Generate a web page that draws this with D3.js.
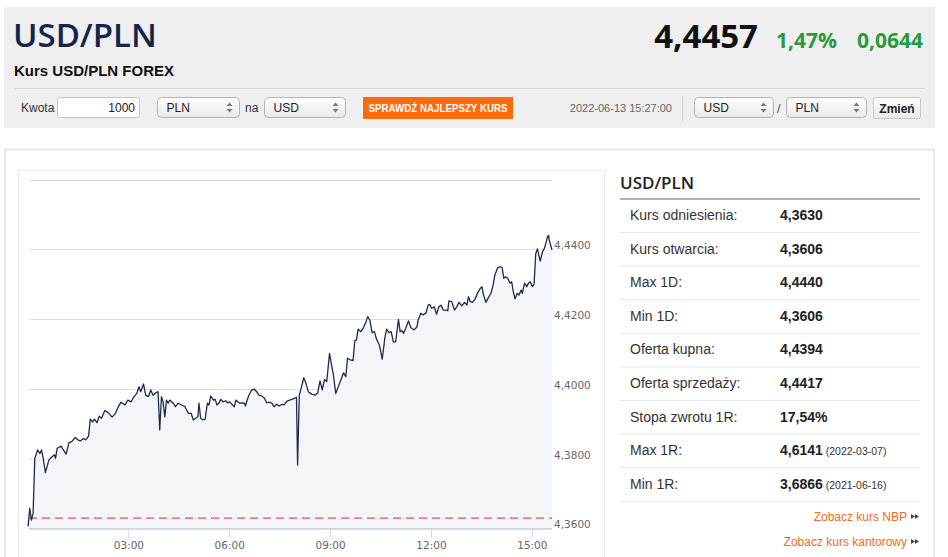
<!DOCTYPE html>
<html>
<head>
<meta charset="utf-8">
<script src="https://cdn.jsdelivr.net/npm/d3@7"></script>
<style>
  body { margin: 0; background: #fff; }
  svg { display: block; }
</style>
</head>
<body>
<script>
// ---- data ----
const pairName = "USD/PLN"
const subTitle = "Kurs USD/PLN FOREX"
const lastRate = "4,4457"
const changePct = "1,47%"
const changeAbs = "0,0644"
const quoteTime = "2022-06-13 15:27:00"
const refRate = 4.3630

const times = ["00:01","00:04","00:07","00:10","00:13","00:18","00:22","00:25","00:28","00:32",
  "00:38","00:43","00:48","00:50","00:53","01:00","01:04","01:09","01:14","01:19",
  "01:25","01:30","01:34","01:40","01:44","01:49","01:52","01:56","02:00","02:04",
  "02:08","02:12","02:18","02:24","02:31","02:37","02:42","02:47","02:54","02:59",
  "03:05","03:09","03:15","03:19","03:22","03:27","03:31","03:36","03:40","03:44",
  "03:49","03:53","03:56","03:59","04:02","04:05","04:08","04:11","04:14","04:20",
  "04:24","04:29","04:35","04:41","04:47","04:52","04:56","05:00","05:04","05:06",
  "05:09","05:13","05:17","05:21","05:24","05:27","05:32","05:35","05:38","05:42",
  "05:45","05:49","05:54","05:57","06:01","06:06","06:09","06:12","06:15","06:19",
  "06:23","06:27","06:29","06:31","06:35","06:40","06:45","06:49","06:53","06:58",
  "07:03","07:07","07:11","07:16","07:20","07:25","07:29","07:34","07:38","07:43",
  "07:48","07:52","07:56","08:00","08:02","08:05","08:09","08:13","08:17","08:21",
  "08:27","08:33","08:38","08:42","08:46","08:50","08:54","08:59","09:02","09:06",
  "09:10","09:15","09:19","09:24","09:28","09:31","09:36","09:41","09:44","09:47",
  "09:50","09:55","09:59","10:04","10:07","10:11","10:15","10:19","10:23","10:28",
  "10:33","10:38","10:41","10:45","10:49","10:53","10:57","11:02","11:05","11:08",
  "11:11","11:15","11:20","11:24","11:30","11:35","11:37","11:42","11:46","11:51",
  "11:55","11:58","12:01","12:06","12:10","12:14","12:18","12:22","12:26","12:30",
  "12:32","12:37","12:42","12:46","12:50","12:55","13:00","13:04","13:07","13:10",
  "13:14","13:19","13:23","13:28","13:31","13:33","13:38","13:42","13:47","13:51",
  "13:54","13:59","14:03","14:07","14:10","14:13","14:17","14:21","14:24","14:27",
  "14:30","14:34","14:37","14:41","14:43","14:47","14:51","14:54","14:57","15:01",
  "15:04","15:07","15:10","15:15","15:19","15:22","15:25","15:28","15:30","15:31","15:36"]

const rates = [4.3606,4.3658,4.3624,4.3644,4.3801,4.3825,4.3815,4.3825,4.3801,4.3760,
  4.3796,4.3804,4.3811,4.3801,4.3830,4.3836,4.3825,4.3813,4.3846,4.3849,
  4.3861,4.3854,4.3851,4.3858,4.3854,4.3865,4.3913,4.3906,4.3913,4.3903,
  4.3922,4.3916,4.3938,4.3932,4.3919,4.3930,4.3949,4.3962,4.3954,4.3968,
  4.3963,4.3975,4.3987,4.4006,4.3992,4.4014,4.3982,4.3978,4.3997,4.3982,
  4.3989,4.3992,4.3882,4.3978,4.3963,4.3920,4.3968,4.3959,4.3968,4.3959,
  4.3949,4.3959,4.3954,4.3949,4.3930,4.3930,4.3911,4.3916,4.3920,4.3959,
  4.3916,4.3911,4.3913,4.3959,4.3954,4.3980,4.3968,4.3970,4.3954,4.3960,
  4.3970,4.3963,4.3966,4.3960,4.3963,4.3954,4.3949,4.3968,4.3963,4.3959,
  4.3960,4.3959,4.3951,4.3963,4.3982,4.3997,4.3999,4.3992,4.3982,4.3980,
  4.3973,4.3960,4.3962,4.3959,4.3949,4.3956,4.3951,4.3956,4.3954,4.3965,
  4.3968,4.3970,4.3973,4.3976,4.3782,4.3982,4.4006,4.4032,4.4016,4.3992,
  4.3985,4.3982,4.3989,4.4023,4.3997,4.4027,4.4021,4.4102,4.4073,4.4040,
  4.3987,4.4008,4.4025,4.4046,4.4035,4.4088,4.4083,4.4081,4.4138,4.4140,
  4.4171,4.4164,4.4174,4.4192,4.4207,4.4197,4.4161,4.4164,4.4142,4.4126,
  4.4085,4.4150,4.4171,4.4161,4.4164,4.4135,4.4135,4.4199,4.4164,4.4167,
  4.4159,4.4174,4.4195,4.4176,4.4169,4.4178,4.4197,4.4217,4.4212,4.4217,
  4.4240,4.4242,4.4231,4.4235,4.4214,4.4235,4.4240,4.4226,4.4226,4.4224,
  4.4252,4.4250,4.4226,4.4235,4.4248,4.4238,4.4248,4.4240,4.4264,4.4250,
  4.4248,4.4258,4.4274,4.4288,4.4293,4.4274,4.4248,4.4260,4.4274,4.4298,
  4.4326,4.4347,4.4350,4.4348,4.4317,4.4321,4.4317,4.4303,4.4307,4.4278,
  4.4258,4.4274,4.4269,4.4283,4.4274,4.4303,4.4293,4.4303,4.4307,4.4293,
  4.4300,4.4388,4.4401,4.4366,4.4393,4.4401,4.4417,4.4436,4.4440,4.4427,4.4398]

const xTicks = ["03:00","06:00","09:00","12:00","15:00"]
const yGrid = [4.36, 4.38, 4.40, 4.42, 4.44, 4.46]
const yLabels = [4.36, 4.38, 4.40, 4.42, 4.44]

const statLabels = ["Kurs odniesienia:","Kurs otwarcia:","Max 1D:","Min 1D:","Oferta kupna:",
  "Oferta sprzedaży:","Stopa zwrotu 1R:","Max 1R:","Min 1R:"]
const statValues = ["4,3630","4,3606","4,4440","4,3606","4,4394","4,4417","17,54%","4,6141","3,6866"]
const statDates = ["","","","","","","","(2022-03-07)","(2021-06-16)"]

const links = ["Zobacz kurs NBP","Zobacz kurs kantorowy"]

// ---- page ----
const svg = d3.select("body").append("svg")
  .attr("width", 948).attr("height", 557)
  .style("font-family", "'Liberation Sans', Arial, sans-serif")

const defs = svg.append("defs")
const grad = defs.append("linearGradient").attr("id", "selGrad")
  .attr("x1", 0).attr("y1", 0).attr("x2", 0).attr("y2", 1)
grad.append("stop").attr("offset", "0%").attr("stop-color", "#ffffff")
grad.append("stop").attr("offset", "100%").attr("stop-color", "#e9e9e9")

// header box
svg.append("rect").attr("x", 4).attr("y", 7).attr("width", 931).attr("height", 121).attr("fill", "#efefef")

svg.append("text").attr("x", 13).attr("y", 47)
  .style("font-family", "'Open Sans', sans-serif").attr("font-weight", 600)
  .attr("font-size", 33).attr("fill", "#14244a").text(pairName)

svg.append("text").attr("x", 14).attr("y", 76)
  .attr("font-weight", "bold").attr("font-size", 15).attr("fill", "#111").text(subTitle)

svg.append("text").attr("x", 758).attr("y", 48).attr("text-anchor", "end")
  .style("font-family", "'Open Sans', sans-serif").attr("font-weight", 700)
  .attr("font-size", 33).attr("fill", "#111").text(lastRate)
svg.append("text").attr("x", 837).attr("y", 48).attr("text-anchor", "end")
  .style("font-family", "'Open Sans', sans-serif").attr("font-weight", 700)
  .attr("font-size", 21).attr("fill", "#2a9a3c").text(changePct)
svg.append("text").attr("x", 923).attr("y", 48).attr("text-anchor", "end")
  .style("font-family", "'Open Sans', sans-serif").attr("font-weight", 700)
  .attr("font-size", 21).attr("fill", "#2a9a3c").text(changeAbs)

svg.append("line").attr("x1", 14).attr("x2", 925).attr("y1", 88.5).attr("y2", 88.5)
  .attr("stroke", "#dcdcdc")

// controls row
svg.append("text").attr("x", 21).attr("y", 112).attr("font-size", 12).attr("fill", "#333").text("Kwota")
svg.append("rect").attr("x", 57.5).attr("y", 97.5).attr("width", 82).attr("height", 20).attr("rx", 2)
  .attr("fill", "#fff").attr("stroke", "#c4c4c4")
svg.append("text").attr("x", 135).attr("y", 112).attr("text-anchor", "end")
  .attr("font-size", 12).attr("fill", "#222").text("1000")

function drawSelect(x, w, label) {
  const g = svg.append("g").attr("transform", `translate(${x},97.5)`)
  g.append("rect").attr("width", w).attr("height", 20).attr("rx", 4)
    .attr("fill", "url(#selGrad)").attr("stroke", "#b4b4b4")
  g.append("text").attr("x", 9).attr("y", 14.5).attr("font-size", 12).attr("fill", "#222").text(label)
  g.append("path").attr("transform", `translate(${w - 10},10)`)
    .attr("d", "M-3,-1.5L0,-5L3,-1.5Z M-3,1.5L0,5L3,1.5Z").attr("fill", "#777")
}
drawSelect(157.5, 82, "PLN")
svg.append("text").attr("x", 245).attr("y", 112).attr("font-size", 12).attr("fill", "#333").text("na")
drawSelect(264.5, 81, "USD")

svg.append("rect").attr("x", 363).attr("y", 97).attr("width", 150).attr("height", 22).attr("fill", "#fd6a0c")
svg.append("text").attr("x", 438).attr("y", 112).attr("text-anchor", "middle")
  .style("font-family", "'Liberation Sans Narrow', 'Arial Narrow', sans-serif")
  .attr("font-weight", "bold").attr("font-size", 11).attr("fill", "#fff")
  .attr("textLength", 139).attr("lengthAdjust", "spacingAndGlyphs")
  .text("SPRAWDŹ NAJLEPSZY KURS")

svg.append("text").attr("x", 672).attr("y", 112).attr("text-anchor", "end")
  .attr("font-size", 11).attr("fill", "#666").text(quoteTime)
svg.append("line").attr("x1", 682.5).attr("x2", 682.5).attr("y1", 96).attr("y2", 121).attr("stroke", "#d6d6d6")
drawSelect(694.5, 79, "USD")
svg.append("text").attr("x", 777).attr("y", 113).attr("font-size", 13).attr("fill", "#555").text("/")
drawSelect(786.5, 80, "PLN")
svg.append("rect").attr("x", 873.5).attr("y", 97.5).attr("width", 47).attr("height", 21).attr("rx", 2)
  .attr("fill", "url(#selGrad)").attr("stroke", "#c8c8c8")
svg.append("text").attr("x", 897).attr("y", 112.5).attr("text-anchor", "middle")
  .attr("font-weight", "bold").attr("font-size", 12).attr("fill", "#222").text("Zmień")

// content panels
svg.append("rect").attr("x", 5).attr("y", 149.5).attr("width", 929).attr("height", 420)
  .attr("fill", "#fff").attr("stroke", "#e8e8e8").attr("stroke-width", 2)
svg.append("rect").attr("x", 18.5).attr("y", 170.5).attr("width", 586).attr("height", 400)
  .attr("fill", "#fff").attr("stroke", "#ebebeb")

// ---- chart ----
const parseTime = d3.timeParse("%H:%M")
const points = times.map((t, i) => ({ t: parseTime(t), v: rates[i] }))

const x = d3.scaleTime()
  .domain([parseTime("00:00"), parseTime("15:36")])
  .range([27.5, 552])
const y = d3.scaleLinear().domain([4.36, 4.46]).range([528.5, 179.5])
const plotLeft = 29, plotRight = 552

const chart = svg.append("g")

chart.selectAll("line.grid").data(yGrid).join("line")
  .attr("class", "grid")
  .attr("x1", plotLeft).attr("x2", plotRight)
  .attr("y1", d => Math.round(y(d)) + 0.5).attr("y2", d => Math.round(y(d)) + 0.5)
  .attr("stroke", "#dedede")

chart.append("path").datum(points)
  .attr("fill", "#f4f5f8")
  .attr("d", d3.area().x(d => x(d.t)).y0(y(4.36)).y1(d => y(d.v)))

chart.append("line")
  .attr("x1", plotLeft).attr("x2", plotRight)
  .attr("y1", y(refRate)).attr("y2", y(refRate))
  .attr("stroke", "#eb4f4f").attr("stroke-width", 1.2).attr("stroke-dasharray", "8,5")

chart.append("path").datum(points)
  .attr("fill", "none").attr("stroke", "#1d2b4c").attr("stroke-width", 1.3)
  .attr("stroke-linejoin", "round")
  .attr("d", d3.line().x(d => x(d.t)).y(d => y(d.v)))

const fmtComma = d => d3.format(".4f")(d).replace(".", ",")

const xAxis = chart.append("g").attr("transform", "translate(0,528.5)")
  .call(d3.axisBottom(x).tickValues(xTicks.map(parseTime)).tickFormat(d3.timeFormat("%H:%M"))
    .tickSize(9).tickPadding(4))
xAxis.select(".domain").attr("d", `M${plotLeft},0H${plotRight}`).attr("stroke", "#ccd6eb")
xAxis.selectAll(".tick line").attr("stroke", "#ccd6eb")
xAxis.selectAll(".tick text").attr("fill", "#666").attr("font-size", 10.5)
  .style("font-family", "'DejaVu Sans', sans-serif")

const yAxis = chart.append("g").attr("transform", `translate(${plotRight},0)`)
  .call(d3.axisRight(y).tickValues(yLabels).tickFormat(fmtComma).tickSize(0).tickPadding(2))
yAxis.select(".domain").remove()
yAxis.selectAll(".tick text").attr("fill", "#666").attr("font-size", 10.5)
  .attr("dy", "-0.05em")
  .style("font-family", "'DejaVu Sans', sans-serif")

// ---- stats panel ----
svg.append("text").attr("x", 620).attr("y", 189)
  .style("font-family", "'Open Sans', sans-serif").attr("font-weight", 600)
  .attr("font-size", 17).attr("fill", "#222").text(pairName)
svg.append("line").attr("x1", 620).attr("x2", 920).attr("y1", 199).attr("y2", 199)
  .attr("stroke", "#b0b0b0").attr("stroke-width", 2)

const rowH = 33.6
const rows = svg.append("g").selectAll("g").data(statLabels).join("g")
  .attr("transform", (d, i) => `translate(0,${220 + i * rowH})`)
rows.append("text").attr("x", 630).attr("font-size", 14).attr("fill", "#333").text(d => d)
rows.append("text").attr("x", 780).attr("font-size", 14).attr("font-weight", "bold").attr("fill", "#222")
  .text((d, i) => statValues[i])
  .append("tspan").attr("font-size", 10.5).attr("font-weight", "normal").attr("fill", "#333")
  .text((d, i) => statDates[i] ? "  " + statDates[i] : "")
rows.append("line").attr("x1", 620).attr("x2", 920).attr("y1", 12.5).attr("y2", 12.5)
  .attr("stroke", "#e6e6e6")

const linkG = svg.append("g").selectAll("g").data(links).join("g")
  .attr("transform", (d, i) => `translate(0,${521 + i * 25})`)
linkG.append("text").attr("x", 907).attr("text-anchor", "end")
  .attr("font-size", 12).attr("fill", "#f26b22").text(d => d)
linkG.append("path").attr("d", "M911,-7L915,-4.5L911,-2Z M915,-7L919,-4.5L915,-2Z").attr("fill", "#444")
</script>
</body>
</html>
